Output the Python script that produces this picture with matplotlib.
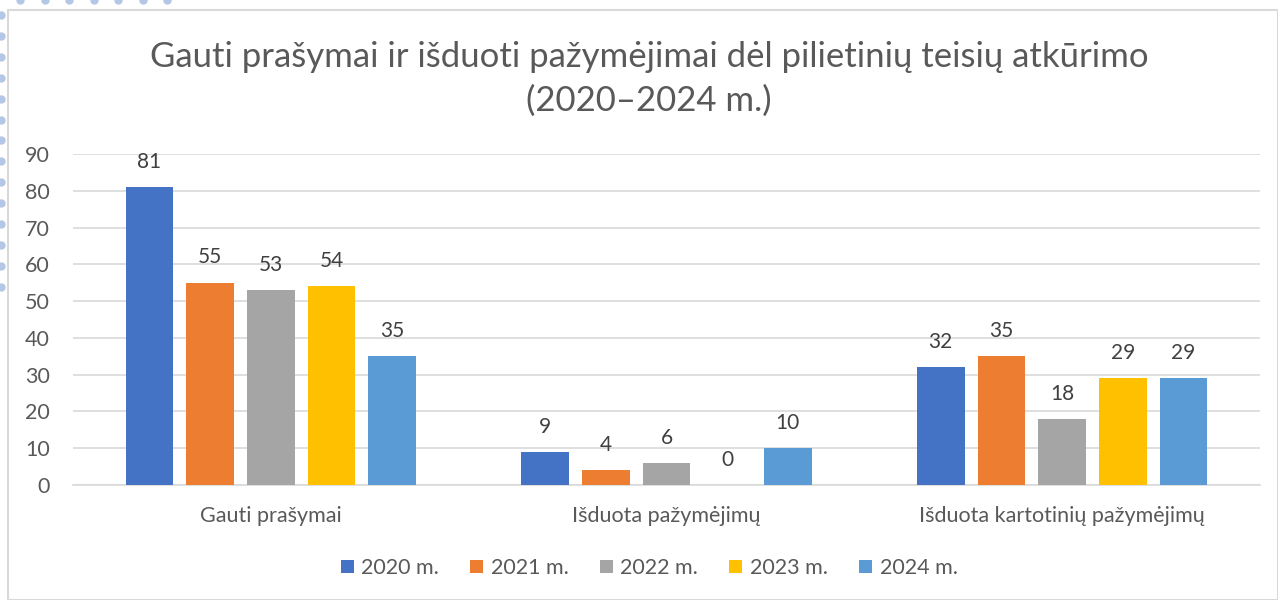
import numpy as np
import matplotlib.pyplot as plt
from matplotlib.patches import Rectangle

plt.rcParams['font.family'] = ['Lato', 'DejaVu Sans']

categories = ['Gauti prašymai', 'Išduota pažymėjimų', 'Išduota kartotinių pažymėjimų']
years = ['2020 m.', '2021 m.', '2022 m.', '2023 m.', '2024 m.']
values = {
    '2020 m.': [81, 9, 32],
    '2021 m.': [55, 4, 35],
    '2022 m.': [53, 6, 18],
    '2023 m.': [54, 0, 29],
    '2024 m.': [35, 10, 29],
}
colors = ['#4472C4', '#ED7D31', '#A5A5A5', '#FFC000', '#5B9BD5']
text_col = '#595959'

fig = plt.figure(figsize=(12.78, 6), dpi=100)
ax = fig.add_axes([73/1278, 1-485/600, 1187/1278, 331/600])

x = np.arange(len(categories))
step = 0.1534
width = 0.121
for i, yr in enumerate(years):
    pos = x + (i - 2) * step
    bars = ax.bar(pos, values[yr], width, color=colors[i], label=yr, zorder=3)
    for b, v in zip(bars, values[yr]):
        ax.annotate(str(v), (b.get_x() + b.get_width()/2, v), xytext=(0, 11),
                    textcoords='offset points', ha='center', va='bottom',
                    fontsize=15, color='#404040')

ax.set_xlim(-0.5, 2.5)
ax.set_ylim(0, 90)
ax.set_yticks(range(0, 91, 10))
ax.grid(axis='y', color='#D9D9D9', linewidth=1.2, zorder=0)
for s in ['top', 'right', 'left']:
    ax.spines[s].set_visible(False)
ax.spines['bottom'].set_color('#D9D9D9')
ax.spines['bottom'].set_linewidth(1.2)
ax.tick_params(axis='both', length=0, labelsize=15.5, colors=text_col)
ax.tick_params(axis='y', pad=16.5)
ax.tick_params(axis='x', pad=15)
ax.set_xticks(x)
ax.set_xticklabels(categories)

fig.text(0.508, 0.905, 'Gauti prašymai ir išduoti pažymėjimai dėl pilietinių teisių atkūrimo',
         ha='center', va='center', fontsize=25, color=text_col)
fig.text(0.508, 0.832, '(2020–2024 m.)', ha='center', va='center', fontsize=25, color=text_col)

fig.legend(loc='center', bbox_to_anchor=(0.508, 1-568/600), ncol=5, frameon=False,
           fontsize=15.5, handlelength=0.6, handleheight=0.6, columnspacing=1.45,
           handletextpad=0.35, labelcolor=text_col)

# chart border and decorative handles
fig.patches.append(Rectangle((8/1278, 0), 1 - 8/1278, 1 - 10/600, transform=fig.transFigure,
                             fill=False, edgecolor='#D9D9D9', linewidth=1.5))
dy = np.arange(15, 292, 20.9)
fig.add_artist(plt.Line2D(np.full(dy.size, 1/1278), 1 - dy/600, transform=fig.transFigure,
                          linestyle='none', marker='o', markersize=5, color='#B4C7E7'))
dx = np.arange(20, 170, 24.5)
fig.add_artist(plt.Line2D(dx/1278, np.full(dx.size, 1.0), transform=fig.transFigure,
                          linestyle='none', marker='o', markersize=5, color='#B4C7E7'))

plt.savefig('out.png', dpi=100)
